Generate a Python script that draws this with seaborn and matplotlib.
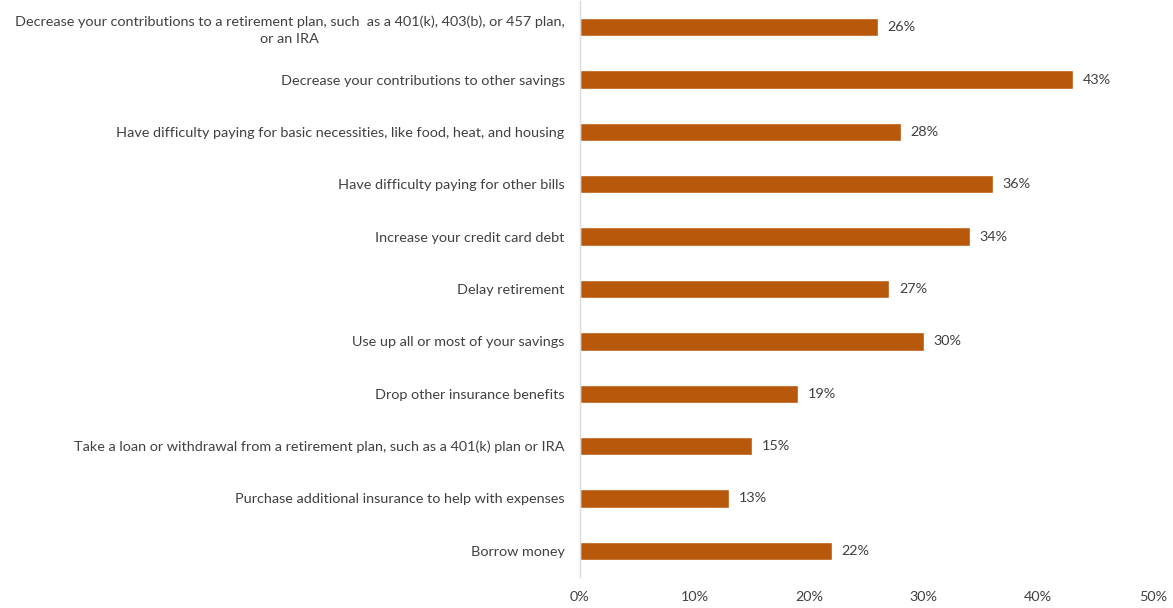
import matplotlib
matplotlib.use("Agg")
import matplotlib.pyplot as plt
import seaborn as sns
import pandas as pd

categories = [
    "Decrease your contributions to a retirement plan, such  as a 401(k), 403(b), or 457 plan,\nor an IRA",
    "Decrease your contributions to other savings",
    "Have difficulty paying for basic necessities, like food, heat, and housing",
    "Have difficulty paying for other bills",
    "Increase your credit card debt",
    "Delay retirement",
    "Use up all or most of your savings",
    "Drop other insurance benefits",
    "Take a loan or withdrawal from a retirement plan, such as a 401(k) plan or IRA",
    "Purchase additional insurance to help with expenses",
    "Borrow money",
]
values = [26, 43, 28, 36, 34, 27, 30, 19, 15, 13, 22]
x_ticks = [0, 10, 20, 30, 40, 50]
x_tick_labels = ["0%", "10%", "20%", "30%", "40%", "50%"]

sns.set_theme(style="white")
plt.rcParams['font.family'] = ['Lato', 'DejaVu Sans']

df = pd.DataFrame({"category": categories, "value": values})

fig = plt.figure(figsize=(11.73, 6.08), dpi=100)
ax = fig.add_axes([580/1173, 31/608, (1153-580)/1173, 576/608])

sns.barplot(data=df, y="category", x="value", orient="h", color="#B7580A",
            width=0.35, saturation=1, ax=ax)

ax.set_xlim(0, 50)
ax.set_ylim(10.5, -0.5)
ax.set_xticks(x_ticks)
ax.set_xticklabels(x_tick_labels, fontsize=10.4, color="#404040")
ax.set_xlabel("")
ax.set_ylabel("")
for lbl in ax.get_yticklabels():
    lbl.set_fontsize(10.4)
    lbl.set_color("#404040")
    lbl.set_multialignment("center")
    lbl.set_linespacing(1.45)
ax.tick_params(axis="y", length=0, pad=11)
ax.tick_params(axis="x", length=0, pad=10)

for s in ["top", "right", "bottom"]:
    ax.spines[s].set_visible(False)
ax.spines["left"].set_color("#D9D9D9")
ax.spines["left"].set_linewidth(1)

ax.bar_label(ax.containers[0], labels=[f"{v}%" for v in values], padding=7,
             fontsize=10.4, color="#404040")

fig.savefig("out.png", dpi=100)
